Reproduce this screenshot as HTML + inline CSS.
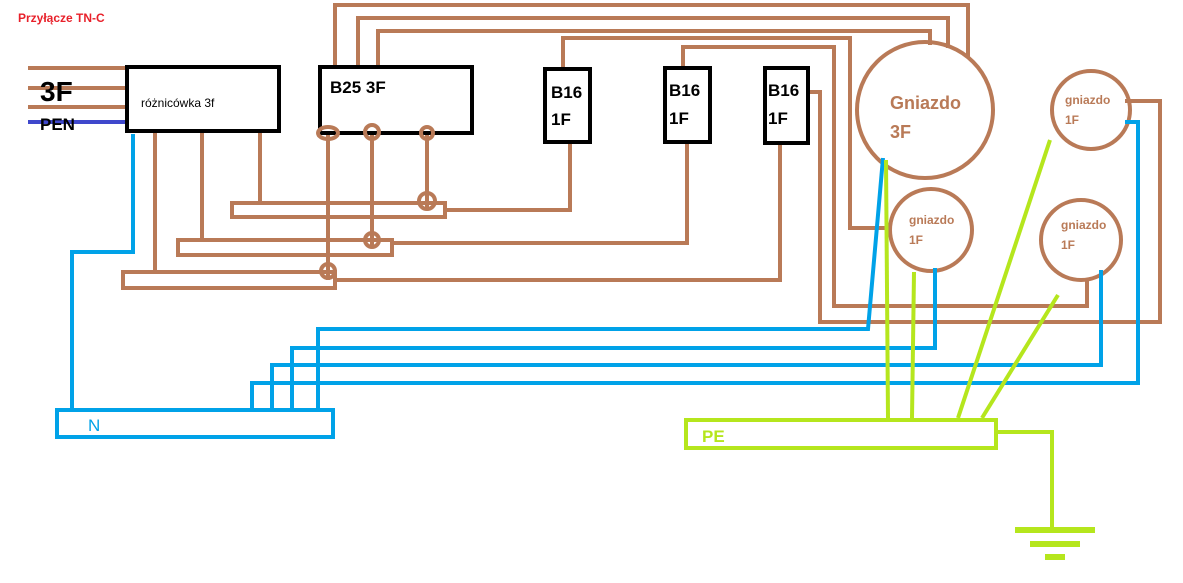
<!DOCTYPE html>
<html><head><meta charset="utf-8"><style>
body{margin:0;background:#fff}
svg{display:block}
text{font-family:"Liberation Sans",sans-serif;font-weight:bold}
</style></head><body>
<svg width="1183" height="583" viewBox="0 0 1183 583" xmlns="http://www.w3.org/2000/svg">
<rect width="1183" height="583" fill="#fff"/>
<text x="18" y="22" font-size="12" fill="#e8202a">Przyłącze TN-C</text>
<g stroke="#b97a57" stroke-width="4" fill="none" stroke-linejoin="miter">
<line x1="28" y1="68" x2="125" y2="68"/>
<line x1="28" y1="88" x2="125" y2="88"/>
<line x1="28" y1="107" x2="125" y2="107"/>
<polyline points="335,68 335,5 968,5 968,58"/>
<polyline points="358,68 358,18 948,18 948,48"/>
<polyline points="378,68 378,31 930,31 930,45"/>
<polyline points="563,70 563,38 850,38 850,228 890,228"/>
<polyline points="683,70 683,47 834,47 834,306 1087,306 1087,280"/>
<polyline points="808,92 820,92 820,322 1160,322 1160,101 1125,101"/>
<polyline points="570,142 570,210 445,210"/>
<polyline points="687,142 687,243 392,243"/>
<polyline points="780,142 780,280 335,280"/>
<rect x="232" y="203" width="213" height="14"/>
<rect x="178" y="240" width="214" height="15"/>
<rect x="123" y="272" width="212" height="16"/>
<line x1="155" y1="132" x2="155" y2="272"/>
<line x1="202" y1="132" x2="202" y2="240"/>
<line x1="260" y1="132" x2="260" y2="203"/>
<line x1="328" y1="132" x2="328" y2="280"/>
<line x1="372" y1="132" x2="372" y2="248"/>
<line x1="427" y1="132" x2="427" y2="208"/>
<circle cx="427" cy="201" r="8"/>
<circle cx="372" cy="240" r="7"/>
<circle cx="328" cy="271" r="7"/>
<circle cx="925" cy="110" r="68"/>
<circle cx="931" cy="230" r="41"/>
<circle cx="1091" cy="110" r="39"/>
<circle cx="1081" cy="240" r="40"/>
</g>
<line x1="28" y1="122" x2="125" y2="122" stroke="#3f48cc" stroke-width="4"/>
<text x="40" y="101" font-size="28" fill="#000">3F</text>
<text x="40" y="130" font-size="17" fill="#000">PEN</text>
<g stroke="#000" stroke-width="4" fill="#fff">
<rect x="127" y="67" width="152" height="64"/>
<rect x="320" y="67" width="152" height="66"/>
<rect x="545" y="69" width="45" height="73"/>
<rect x="665" y="68" width="45" height="74"/>
<rect x="765" y="68" width="43" height="75"/>
</g>
<g stroke="#b97a57" stroke-width="4" fill="none">
<ellipse cx="328" cy="133" rx="10" ry="6"/>
<circle cx="372" cy="132" r="7"/>
<circle cx="427" cy="133" r="6"/>
</g>
<text x="141" y="107" font-size="12" fill="#000" style="font-weight:normal">różnicówka 3f</text>
<text x="330" y="93" font-size="17" fill="#000">B25 3F</text>
<text x="551" y="98" font-size="17" fill="#000">B16</text><text x="551" y="125" font-size="17" fill="#000">1F</text>
<text x="669" y="96" font-size="17" fill="#000">B16</text><text x="669" y="124" font-size="17" fill="#000">1F</text>
<text x="768" y="96" font-size="17" fill="#000">B16</text><text x="768" y="124" font-size="17" fill="#000">1F</text>
<text x="890" y="109" font-size="18" fill="#b97a57">Gniazdo</text>
<text x="890" y="138" font-size="18" fill="#b97a57">3F</text>
<g font-size="12" fill="#b97a57">
<text x="909" y="224">gniazdo</text><text x="909" y="244">1F</text>
<text x="1065" y="104">gniazdo</text><text x="1065" y="124">1F</text>
<text x="1061" y="229">gniazdo</text><text x="1061" y="249">1F</text>
</g>
<g stroke="#00a2e8" stroke-width="4" fill="none">
<polyline points="133,134 133,252 72,252 72,408"/>
<polyline points="318,408 318,329 868,329 883,158"/>
<polyline points="292,408 292,348 935,348 935,268"/>
<polyline points="272,408 272,365 1101,365 1101,270"/>
<polyline points="252,408 252,383 1138,383 1138,122 1125,122"/>
<rect x="57" y="410" width="276" height="27"/>
</g>
<text x="88" y="431" font-size="17" fill="#00a2e8" style="font-weight:normal">N</text>
<g stroke="#b5e61d" stroke-width="4" fill="none">
<line x1="888" y1="418" x2="886" y2="160"/>
<line x1="912" y1="418" x2="914" y2="272"/>
<line x1="958" y1="418" x2="1050" y2="140"/>
<line x1="982" y1="418" x2="1058" y2="295"/>
<rect x="686" y="420" width="310" height="28"/>
<polyline points="997,432 1052,432 1052,530"/>
<line x1="1015" y1="530" x2="1095" y2="530" stroke-width="6"/>
<line x1="1030" y1="544" x2="1080" y2="544" stroke-width="6"/>
<line x1="1045" y1="557" x2="1065" y2="557" stroke-width="6"/>
</g>
<text x="702" y="442" font-size="17" fill="#b5e61d">PE</text>
</svg>
</body></html>
